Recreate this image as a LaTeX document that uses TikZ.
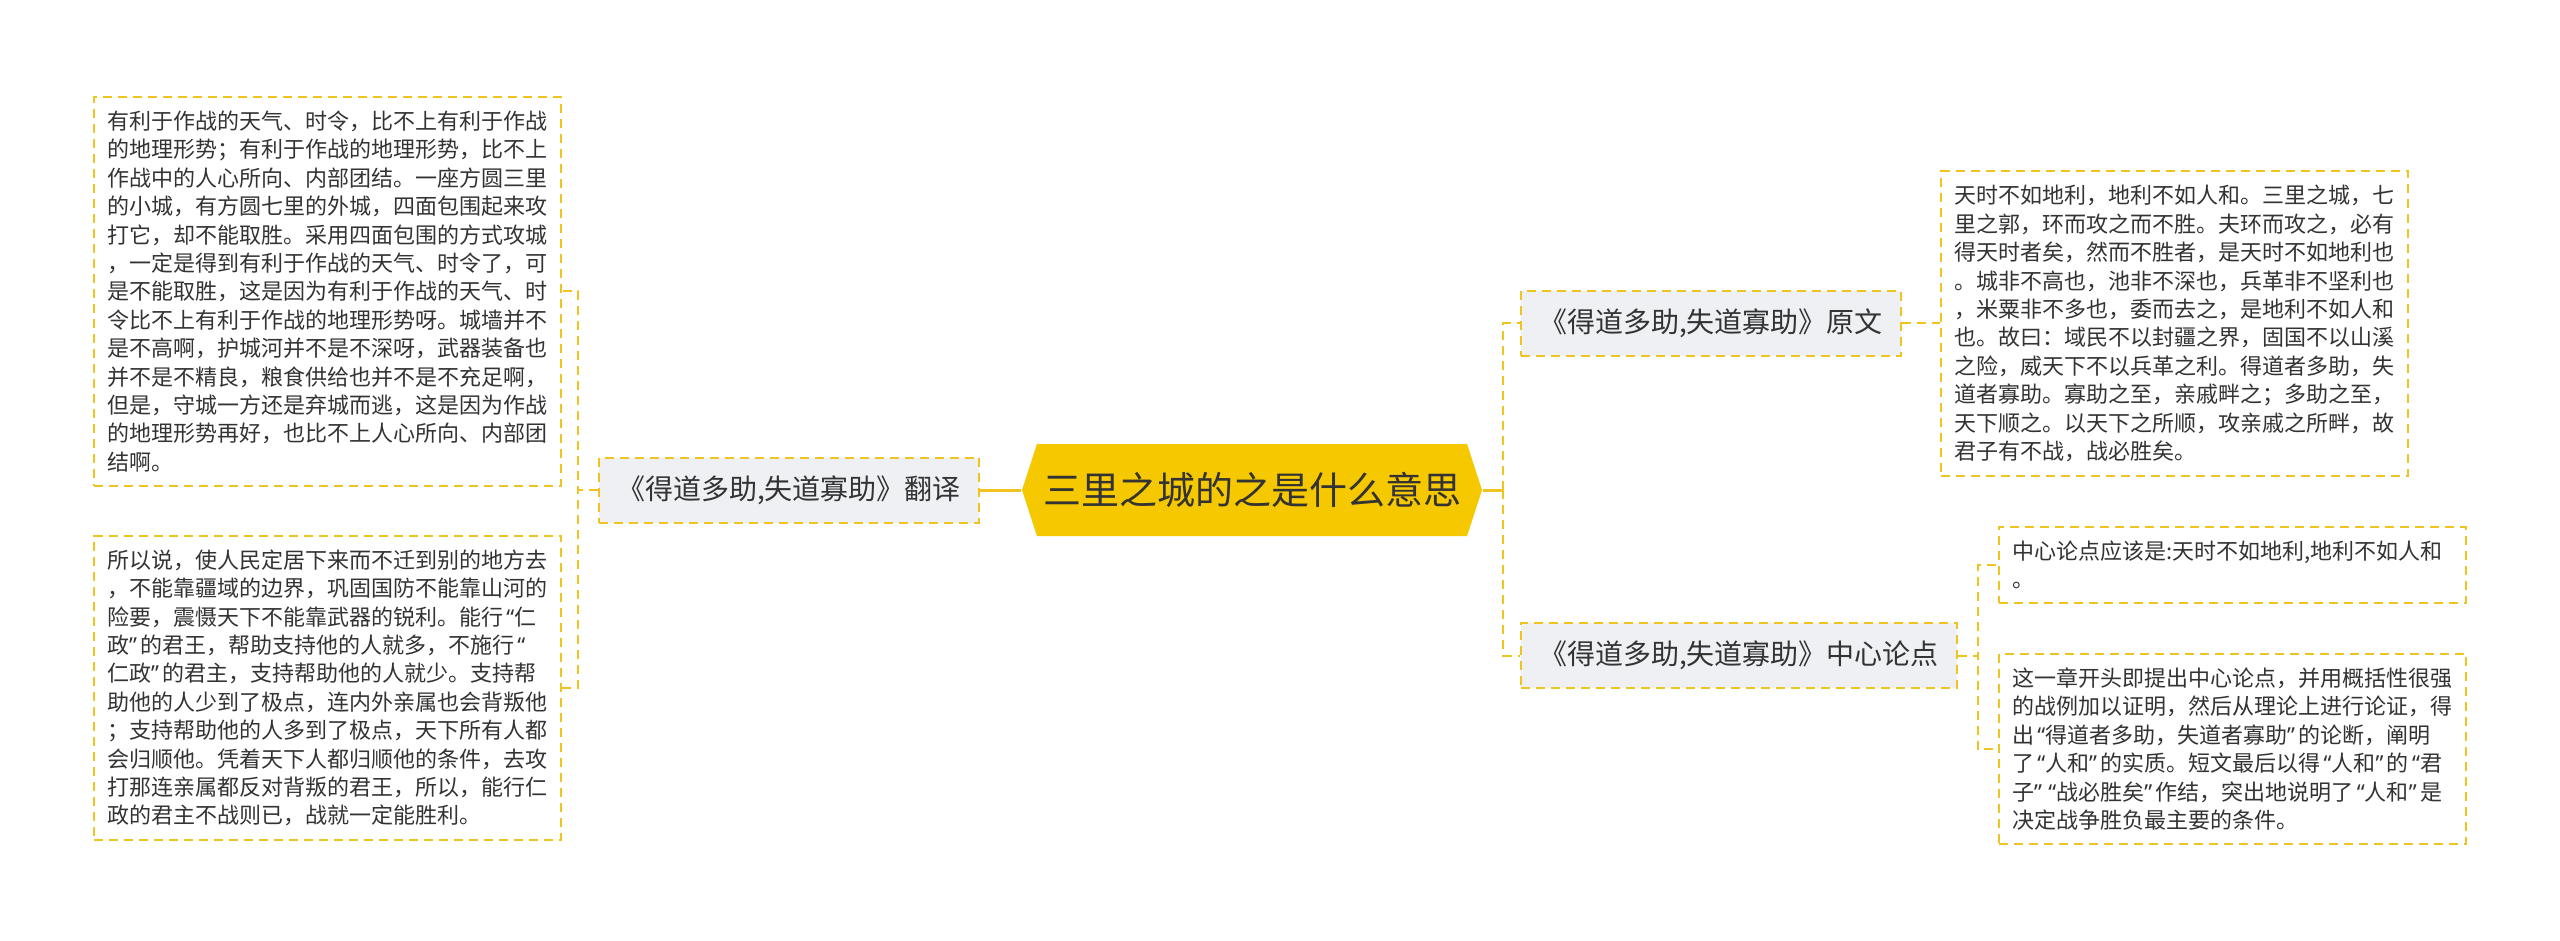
\documentclass[tikz,border=0pt]{standalone}
\usepackage{fontspec}
\setmainfont{Noto Sans CJK SC}
\newfontfamily\quotefont{Noto Sans}
\newcommand{\dqopen}{{\hspace{0.15em}\quotefont “}}
\newcommand{\dqclose}{{\quotefont ”\hspace{0.15em}}}
\usetikzlibrary{positioning, shapes.symbols}
\definecolor{cgold}{HTML}{F5C800}
\definecolor{cline}{HTML}{EFC420}
\definecolor{cpale}{HTML}{EEF0F3}
\definecolor{cink}{HTML}{333333}
\tikzset{
  every picture/.style={x=0.5pt, y=-0.5pt, line width=1pt},
  topic/.style={signal, signal to=west and east, signal pointer angle=144, fill=cgold, text=cink, minimum width=230pt, minimum height=46pt, inner sep=0pt, font=\fontsize{19}{22}\selectfont},
  branch/.style={draw=cline, dash pattern=on 4.5pt off 3pt, fill=cpale, text=cink, inner xsep=9pt, minimum height=32.5pt, font=\fontsize{14}{17}\selectfont},
  leaf/.style={draw=cline, dash pattern=on 4.5pt off 3pt, fill=white, text=cink, text width=220.5pt, align=left, inner xsep=6.5pt, inner ysep=7pt, font=\fontsize{11}{14.2}\selectfont},
  link/.style={draw=cline, dash pattern=on 4.5pt off 3pt},
  trunk/.style={draw=cline, line width=1.5pt},
}

\begin{document}
\begin{tikzpicture}
  \useasboundingbox (0,0) rectangle (2560,941);
  \node[topic] (root) at (1252,490) {三里之城的之是什么意思};
  \node[branch, left=20.5pt of root] (trans) {《得道多助,失道寡助》翻译};
  \node[branch, anchor=west] (orig) at (1520,323.5) {《得道多助,失道寡助》原文};
  \node[branch, anchor=west] (point) at (1520,655.5) {《得道多助,失道寡助》中心论点};
  \node[leaf, anchor=east] (transA) at (562,291.5) {有利于作战的天气、时令，比不上有利于作战\\的地理形势；有利于作战的地理形势，比不上\\作战中的人心所向、内部团结。一座方圆三里\\的小城，有方圆七里的外城，四面包围起来攻\\打它，却不能取胜。采用四面包围的方式攻城\\，一定是得到有利于作战的天气、时令了，可\\是不能取胜，这是因为有利于作战的天气、时\\令比不上有利于作战的地理形势呀。城墙并不\\是不高啊，护城河并不是不深呀，武器装备也\\并不是不精良，粮食供给也并不是不充足啊，\\但是，守城一方还是弃城而逃，这是因为作战\\的地理形势再好，也比不上人心所向、内部团\\结啊。};
  \node[leaf, anchor=east] (transB) at (562,688) {所以说，使人民定居下来而不迁到别的地方去\\，不能靠疆域的边界，巩固国防不能靠山河的\\险要，震慑天下不能靠武器的锐利。能行\dqopen 仁\\政\dqclose 的君王，帮助支持他的人就多，不施行\dqopen\\仁政\dqclose 的君主，支持帮助他的人就少。支持帮\\助他的人少到了极点，连内外亲属也会背叛他\\；支持帮助他的人多到了极点，天下所有人都\\会归顺他。凭着天下人都归顺他的条件，去攻\\打那连亲属都反对背叛的君王，所以，能行仁\\政的君主不战则已，战就一定能胜利。};
  \node[leaf, anchor=west] (origA) at (1940,323.5) {天时不如地利，地利不如人和。三里之城，七\\里之郭，环而攻之而不胜。夫环而攻之，必有\\得天时者矣，然而不胜者，是天时不如地利也\\。城非不高也，池非不深也，兵革非不坚利也\\，米粟非不多也，委而去之，是地利不如人和\\也。故曰：域民不以封疆之界，固国不以山溪\\之险，威天下不以兵革之利。得道者多助，失\\道者寡助。寡助之至，亲戚畔之；多助之至，\\天下顺之。以天下之所顺，攻亲戚之所畔，故\\君子有不战，战必胜矣。};
  \node[leaf, anchor=west] (pointA) at (1998,565) {中心论点应该是:天时不如地利,地利不如人和\\。};
  \node[leaf, anchor=west] (pointB) at (1998,749) {这一章开头即提出中心论点，并用概括性很强\\的战例加以证明，然后从理论上进行论证，得\\出\dqopen 得道者多助，失道者寡助\dqclose 的论断，阐明\\了\dqopen 人和\dqclose 的实质。短文最后以得\dqopen 人和\dqclose 的\dqopen 君\\子\dqclose\dqopen 战必胜矣\dqclose 作结，突出地说明了\dqopen 人和\dqclose 是\\决定战争胜负最主要的条件。};
  \draw[trunk] (trans.east) -- (root.west);
  \draw[link] (trans.west) -- ++(-10pt,0) |- (transA.east);
  \draw[link] (trans.west) -- ++(-10pt,0) |- (transB.east);
  \draw[trunk] (root.east) -- ++(10pt,0) coordinate (fork);
  \draw[link] (fork) |- (orig.west);
  \draw[link] (fork) |- (point.west);
  \draw[link] (orig.east) -- (origA.west);
  \draw[link] (point.east) -- ++(10pt,0) |- (pointA.west);
  \draw[link] (point.east) -- ++(10pt,0) |- (pointB.west);
\end{tikzpicture}
\end{document}
